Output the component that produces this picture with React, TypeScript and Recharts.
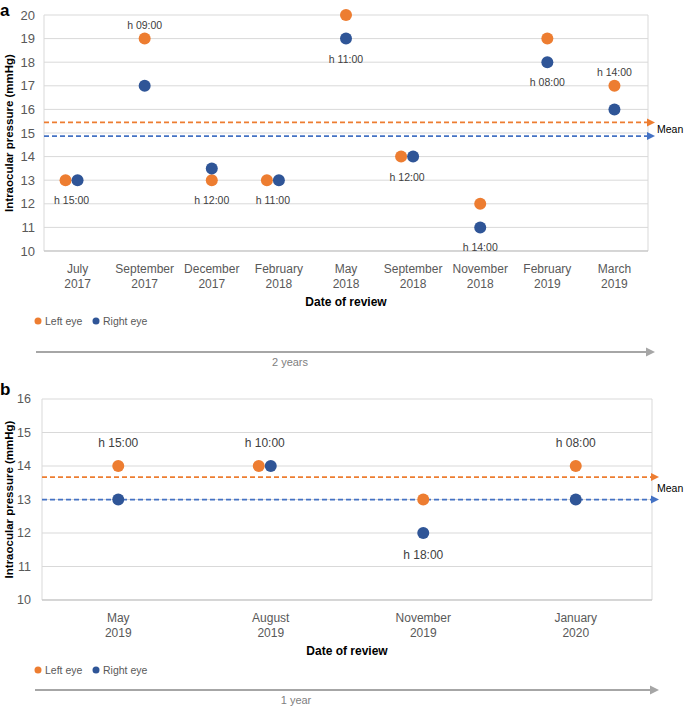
import { ScatterChart, Scatter, XAxis, YAxis, CartesianGrid, ReferenceLine } from 'recharts';

const ORANGE = '#ED7D31';
const NAVY = '#2F5597';
const MEAN_BLUE = '#4472C4';
const GRID = '#D9D9D9';
const TICK = '#595959';
const LABEL = '#404040';
const FONT = "'Liberation Sans', Arial, sans-serif";

// panel a: 2017-2019
const monthsA = ['July', 'September', 'December', 'February', 'May', 'September', 'November', 'February', 'March'];
const yearsA = ['2017', '2017', '2017', '2018', '2018', '2018', '2018', '2019', '2019'];
const leftEyeA = [13, 19, 13, 13, 20, 14, 12, 19, 17];
const rightEyeA = [13, 17, 13.5, 13, 19, 14, 11, 18, 16];
const timesA = ['h 15:00', 'h 09:00', 'h 12:00', 'h 11:00', 'h 11:00', 'h 12:00', 'h 14:00', 'h 08:00', 'h 14:00'];
const sidesA: Side[] = ['below', 'above', 'below', 'below', 'below', 'below', 'below', 'below', 'above'];
const meanLeftA = 15.45;
const meanRightA = 14.87;
const yTicksA = [10, 11, 12, 13, 14, 15, 16, 17, 18, 19, 20];

// panel b: 2019-2020
const monthsB = ['May', 'August', 'November', 'January'];
const yearsB = ['2019', '2019', '2019', '2020'];
const leftEyeB = [14, 14, 13, 14];
const rightEyeB = [13, 14, 12, 13];
const timesB = ['h 15:00', 'h 10:00', 'h 18:00', 'h 08:00'];
const sidesB: Side[] = ['above', 'above', 'below', 'above'];
const meanLeftB = 13.67;
const meanRightB = 13.0;
const yTicksB = [10, 11, 12, 13, 14, 15, 16];

const series = [
  { name: 'Left eye', color: ORANGE },
  { name: 'Right eye', color: NAVY },
];

type Side = 'above' | 'below';

const DOT_R = 6;
const PAIR_GAP = 12;

function buildRows(left: number[], right: number[], times: string[], sides: Side[]) {
  return left.map((l, i) => {
    const r = right[i];
    const side = sides[i];
    return {
      pos: i + 0.5,
      left: l,
      right: r,
      paired: l === r,
      time: times[i],
      side,
      anchor: side === 'above' ? Math.max(l, r) : Math.min(l, r),
    };
  });
}

const eyeDot = (color: string, shiftWhenPaired: boolean) => (props: any) => {
  const { cx, cy, payload } = props;
  const dx = shiftWhenPaired && payload.paired ? -PAIR_GAP : 0;
  return <circle cx={cx + dx} cy={cy} r={DOT_R} fill={color} />;
};

const arrowLine = (color: string) => (props: any) => {
  const { x1, y1, x2, y2 } = props;
  return (
    <g>
      <line x1={x1} y1={y1} x2={x2 - 1} y2={y2} stroke={color} strokeWidth={1.75} strokeDasharray="5 3" />
      <path d={`M${x2 - 1},${y2 - 4} L${x2 + 7},${y2} L${x2 - 1},${y2 + 4} Z`} fill={color} />
    </g>
  );
};

interface PanelProps {
  months: string[];
  years: string[];
  left: number[];
  right: number[];
  times: string[];
  sides: Side[];
  meanLeft: number;
  meanRight: number;
  yTicks: number[];
  width: number;
  height: number;
  margin: { top: number; right: number; bottom: number; left: number };
  yAxisWidth: number;
  xAxisHeight: number;
  yTickMargin: number;
  yTickFont: number;
  timeFont: number;
  timeAbove: number;
  timeBelow: number;
  meanOffset: number;
}

function Panel(p: PanelProps) {
  const rows = buildRows(p.left, p.right, p.times, p.sides);
  const leftPts = rows.map((r) => ({ x: r.pos, y: r.left, paired: r.paired }));
  const rightPts = rows.map((r) => ({ x: r.pos, y: r.right, paired: r.paired }));
  const timePts = rows.map((r) => ({ x: r.pos, y: r.anchor, paired: r.paired, time: r.time, side: r.side }));
  const n = p.months.length;
  const centers = p.months.map((_, i) => i + 0.5);
  const bounds = Array.from({ length: n + 1 }, (_, i) => i);

  const timeLabel = (props: any) => {
    const { cx, cy, payload } = props;
    const dx = payload.paired ? -PAIR_GAP / 2 : 0;
    const y = payload.side === 'above' ? cy - p.timeAbove : cy + p.timeBelow;
    return (
      <text x={cx + dx} y={y} textAnchor="middle" fontSize={p.timeFont} fill={LABEL}>
        {payload.time}
      </text>
    );
  };

  const monthTick = (props: any) => {
    const { x, y, payload } = props;
    const i = Math.floor(payload.value);
    return (
      <g>
        <text x={x} y={y + 21.5} textAnchor="middle" fontSize={12} fill={TICK}>{p.months[i]}</text>
        <text x={x} y={y + 36.5} textAnchor="middle" fontSize={12} fill={TICK}>{p.years[i]}</text>
      </g>
    );
  };

  const xTitle = (props: any) => {
    const vb = props.viewBox;
    return (
      <text x={vb.x + vb.width / 2} y={vb.y + 55} textAnchor="middle" fontSize={12} fontWeight="bold" fill="#000">
        Date of review
      </text>
    );
  };

  const yTitle = (props: any) => {
    const vb = props.viewBox;
    const cx = vb.x + 9;
    const cy = vb.y + vb.height / 2;
    return (
      <text x={cx} y={cy} transform={`rotate(-90, ${cx}, ${cy})`} textAnchor="middle" dominantBaseline="central" fontSize={11.5} fontWeight="bold" fill="#000">
        Intraocular pressure (mmHg)
      </text>
    );
  };

  return (
    <ScatterChart width={p.width} height={p.height} margin={p.margin}>
      <CartesianGrid xAxisId="grid" stroke={GRID} />
      <XAxis
        xAxisId="lab"
        type="number"
        dataKey="x"
        domain={[0, n]}
        ticks={centers}
        interval={0}
        tickLine={false}
        tickSize={0}
        tickMargin={0}
        axisLine={{ stroke: '#BFBFBF' }}
        height={p.xAxisHeight}
        tick={monthTick}
        label={{ content: xTitle }}
      />
      <XAxis xAxisId="grid" type="number" domain={[0, n]} ticks={bounds} interval={0} hide height={0} />
      <YAxis
        type="number"
        dataKey="y"
        domain={[p.yTicks[0], p.yTicks[p.yTicks.length - 1]]}
        ticks={p.yTicks}
        interval={0}
        width={p.yAxisWidth}
        tickLine={false}
        axisLine={false}
        tickSize={0}
        tickMargin={p.yTickMargin}
        tick={{ fontSize: p.yTickFont, fill: TICK }}
        label={{ content: yTitle }}
      />
      <ReferenceLine xAxisId="lab" y={p.meanLeft} shape={arrowLine(ORANGE)} />
      <ReferenceLine xAxisId="lab" y={p.meanRight} shape={arrowLine(MEAN_BLUE)} />
      <ReferenceLine
        xAxisId="lab"
        y={(p.meanLeft + p.meanRight) / 2}
        stroke="none"
        label={{ value: 'Mean', position: 'right', offset: p.meanOffset, fontSize: 10.5, fill: '#000' }}
      />
      <Scatter xAxisId="lab" name={series[0].name} data={leftPts} shape={eyeDot(series[0].color, true)} isAnimationActive={false} />
      <Scatter xAxisId="lab" name={series[1].name} data={rightPts} shape={eyeDot(series[1].color, false)} isAnimationActive={false} />
      <Scatter xAxisId="lab" data={timePts} shape={timeLabel} isAnimationActive={false} />
    </ScatterChart>
  );
}

function Key({ y }: { y: number }) {
  const starts = [38, 96];
  return (
    <g>
      {series.map((s, i) => (
        <g key={s.name}>
          <circle cx={starts[i]} cy={y} r={3.5} fill={s.color} />
          <text x={starts[i] + 7} y={y + 3.8} fontSize={10.5} fill={TICK}>{s.name}</text>
        </g>
      ))}
    </g>
  );
}

function Span({ y, x1, x2, text, textX }: { y: number; x1: number; x2: number; text: string; textX: number }) {
  return (
    <g>
      <line x1={x1} y1={y} x2={x2 - 8} y2={y} stroke="#A6A6A6" strokeWidth={2} />
      <path d={`M${x2 - 9},${y - 4.5} L${x2},${y} L${x2 - 9},${y + 4.5} Z`} fill="#A6A6A6" />
      <text x={textX} y={y + 14} textAnchor="middle" fontSize={11} fill="#808080">{text}</text>
    </g>
  );
}

export default function App() {
  return (
    <div style={{ position: 'absolute', left: 0, top: 0, width: 685, height: 706, background: '#fff', fontFamily: FONT }}>
      <div style={{ position: 'absolute', left: 0, top: 0 }}>
        <Panel
          months={monthsA}
          years={yearsA}
          left={leftEyeA}
          right={rightEyeA}
          times={timesA}
          sides={sidesA}
          meanLeft={meanLeftA}
          meanRight={meanRightA}
          yTicks={yTicksA}
          width={685}
          height={345}
          margin={{ top: 15, right: 37, bottom: 0, left: 0 }}
          yAxisWidth={44}
          xAxisHeight={94}
          yTickMargin={9}
          yTickFont={13}
          timeFont={10.5}
          timeAbove={10}
          timeBelow={24}
          meanOffset={9}
        />
      </div>
      <div style={{ position: 'absolute', left: 0, top: 370 }}>
        <Panel
          months={monthsB}
          years={yearsB}
          left={leftEyeB}
          right={rightEyeB}
          times={timesB}
          sides={sidesB}
          meanLeft={meanLeftB}
          meanRight={meanRightB}
          yTicks={yTicksB}
          width={685}
          height={290}
          margin={{ top: 29, right: 33, bottom: 0, left: 0 }}
          yAxisWidth={42}
          xAxisHeight={60}
          yTickMargin={11}
          yTickFont={12.5}
          timeFont={12}
          timeAbove={19}
          timeBelow={26}
          meanOffset={5}
        />
      </div>
      <svg width={685} height={706} style={{ position: 'absolute', left: 0, top: 0, pointerEvents: 'none' }}>
        <text x={0} y={16} fontSize={17} fontWeight="bold" fill="#000">a</text>
        <text x={0} y={395} fontSize={17} fontWeight="bold" fill="#000">b</text>
        <Key y={321} />
        <Span y={352} x1={36} x2={655} text="2 years" textX={290} />
        <Key y={670} />
        <Span y={690} x1={35} x2={659} text="1 year" textX={296} />
      </svg>
    </div>
  );
}
